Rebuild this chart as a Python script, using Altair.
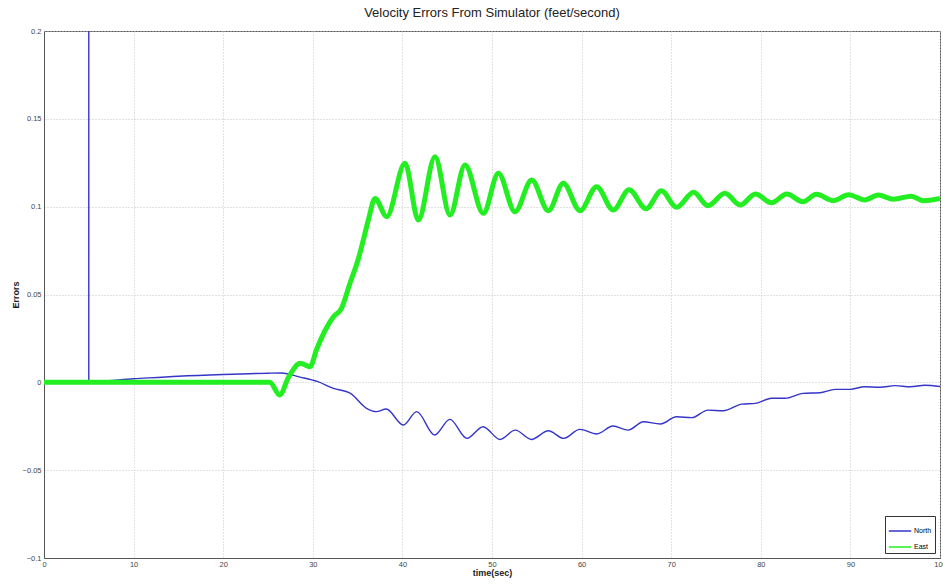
import altair as alt
import pandas as pd

# ---- data ----
t_north = [0, 4.999, 5, 5.001, 10, 15, 20, 25, 26.5, 28.6, 30.5, 32.3, 34.2, 36.0, 37.1,
           38.2, 40.1, 41.6, 43.6, 45.3, 47.2, 49.0, 50.9, 52.6, 54.4, 56.3, 58.0, 59.8,
           61.7, 63.5, 65.2, 66.9, 68.8, 70.6, 72.3, 74.1, 75.8, 77.9, 79.4, 81.2, 82.7,
           84.7, 86.6, 88.3, 89.95, 91.6, 93.3, 95.0, 96.7, 98.3, 100]
v_north = [0, 0, 0.3, 0.0005, 0.002, 0.0035, 0.0045, 0.0052, 0.0053, 0.003, 0.0005,
           -0.0034, -0.0063, -0.0148, -0.0167, -0.0152, -0.0243, -0.0167, -0.030, -0.0211,
           -0.0319, -0.0253, -0.0325, -0.0272, -0.0325, -0.0276, -0.0319, -0.0268, -0.0294,
           -0.0249, -0.0272, -0.0224, -0.0237, -0.0196, -0.0201, -0.0158, -0.0162, -0.0124,
           -0.012, -0.0091, -0.0091, -0.0063, -0.0059, -0.004, -0.004, -0.0025, -0.0028,
           -0.0019, -0.0025, -0.0017, -0.0024]

t_east = [0, 25.2, 26.3, 27.3, 28.6, 29.7, 30.4, 31.4, 32.3, 33.2, 34.15, 35.1, 35.45,
          36.2, 36.94, 38.25, 40.29, 41.78, 43.64, 45.31, 46.99, 49.03, 50.71, 52.57,
          54.43, 56.29, 57.96, 59.82, 61.68, 63.53, 65.3, 67.2, 68.9, 70.6, 72.5, 74.1,
          76.0, 77.7, 79.4, 81.2, 82.9, 84.7, 86.2, 88.1, 89.8, 91.6, 93.1, 94.8, 96.8,
          98.1, 100]
v_east = [0, 0, -0.0072, 0.003, 0.0108, 0.0089, 0.0184, 0.0298, 0.0373, 0.0421, 0.0564,
          0.0706, 0.0772, 0.0924, 0.1047, 0.0943, 0.1247, 0.0924, 0.1284, 0.0952, 0.1237,
          0.0962, 0.119, 0.0971, 0.1152, 0.0977, 0.1133, 0.0977, 0.1114, 0.0981, 0.1097,
          0.0988, 0.109, 0.0996, 0.1082, 0.1005, 0.1076, 0.1009, 0.1072, 0.1022, 0.1072,
          0.1028, 0.107, 0.1034, 0.1068, 0.1038, 0.1066, 0.1042, 0.106, 0.1034, 0.1047]

x_ticks = [0, 10, 20, 30, 40, 50, 60, 70, 80, 90, 100]
y_ticks = [-0.1, -0.05, 0, 0.05, 0.1, 0.15, 0.2]
series = ["North", "East"]
colors = ["#3535c8", "#22ee22"]

rows = []
for i, (t, v) in enumerate(zip(t_north, v_north)):
    rows.append({"series": "North", "t": t, "v": v, "idx": i})
for i, (t, v) in enumerate(zip(t_east, v_east)):
    rows.append({"series": "East", "t": t, "v": v, "idx": i})
df = pd.DataFrame(rows)

FONT = "Liberation Sans"

xenc = alt.X("t:Q", scale=alt.Scale(domain=[0, 100], nice=False, zero=False),
             axis=alt.Axis(values=x_ticks, title="time(sec)", format="d"))
yenc = alt.Y("v:Q", scale=alt.Scale(domain=[-0.1, 0.2], nice=False),
             axis=alt.Axis(values=y_ticks, title="Errors", format="~g"))
cenc = alt.Color("series:N", scale=alt.Scale(domain=series, range=colors),
                 legend=alt.Legend(title=None, orient="bottom-right", offset=5,
                                   symbolType="stroke", symbolSize=500,
                                   symbolStrokeWidth=1.5, labelFontSize=7,
                                   labelFont=FONT, fillColor="white",
                                   strokeColor="#333", padding=3, rowPadding=1,
                                   labelOffset=2))

base = alt.Chart(df)
north = base.transform_filter(alt.datum.series == "North").mark_line(
    strokeWidth=1.4, interpolate="monotone", clip=True
).encode(x=xenc, y=yenc, color=cenc, order=alt.Order("idx:Q"))
east = base.transform_filter(alt.datum.series == "East").mark_line(
    strokeWidth=5, interpolate="monotone", clip=True
).encode(x=xenc, y=yenc, color=cenc, order=alt.Order("idx:Q"))

chart = alt.layer(north, east).properties(
    width=896, height=527,
    background="white",
    title=alt.TitleParams("Velocity Errors From Simulator (feet/second)",
                          fontSize=13, font=FONT, fontWeight="normal",
                          color="#222", anchor="middle", offset=7),
    autosize=alt.AutoSizeParams(type="none"),
    padding={"left": 44, "top": 31, "right": 3, "bottom": 26},
).configure_view(
    stroke="#555", strokeWidth=1
).configure_axis(
    grid=True, gridColor="#c4c4c4", gridDash=[1, 2], gridWidth=1,
    ticks=False, domainColor="#555", labelFont=FONT, labelFontSize=7.5,
    labelColor="#444", titleFont=FONT, titleFontSize=9, titleFontWeight="bold",
    titleColor="#222", labelFlush=False
).configure_axisX(
    labelPadding=2, titlePadding=1
).configure_axisY(
    labelPadding=3, titlePadding=2
)

chart.save("out.html", embed_options={"renderer": "svg", "actions": False})
